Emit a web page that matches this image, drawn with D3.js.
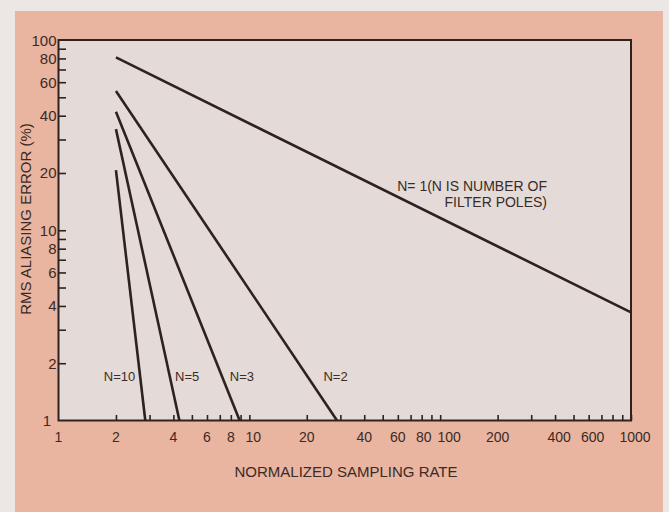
<!DOCTYPE html>
<html>
<head>
<meta charset="utf-8">
<script src="https://cdn.jsdelivr.net/npm/d3@7"></script>
<style>
  html, body { margin: 0; padding: 0; background: #ece7e5; }
  svg { display: block; }
  text { font-family: "Liberation Sans", Arial, sans-serif; fill: #3a2b26; }
</style>
</head>
<body>
<svg id="chart" width="669" height="512"></svg>
<script>
// ---- data ----
const seriesNames = ["N=1", "N=2", "N=3", "N=5", "N=10"];
const startRate  = [2, 2, 2, 2, 2];
const startError = [81, 54, 42, 34, 20.7];
const endRate    = [1000, 28.8, 8.9, 4.3, 2.85];
const endError   = [3.7, 1, 1, 1, 1];

const xTickValues = [2,3,4,5,6,7,8,9,10,20,30,40,50,60,70,80,90,100,200,300,400,500,600,700,800,900,1000];
const xTickLabels = [1,2,4,6,8,10,20,40,60,80,100,200,400,600,1000];
const yTickValues = [2,3,4,5,6,7,8,9,10,20,30,40,50,60,70,80,90];
const yTickLabels = [1,2,4,6,8,10,20,40,60,80,100];

const xTitle = "NORMALIZED SAMPLING RATE";
const yTitle = "RMS ALIASING ERROR (%)";
const noteLine1 = "N= 1(N IS NUMBER OF";
const noteLine2 = "FILTER POLES)";
// label anchor points given in data units (rate, error)
const seriesLabelRate = [null, 28.3, 9.15, 4.72, 2.09];
const seriesLabelError = 1.7;

// ---- layout ----
const svg = d3.select("#chart");
const ink = "#2e2220";
const L = 58.5, R = 631, T = 40, B = 420.5;

svg.append("rect").attr("x", 0).attr("y", 0).attr("width", 669).attr("height", 512).attr("fill", "#ece7e5");
svg.append("rect").attr("x", 15).attr("y", 11).attr("width", 648).attr("height", 501).attr("fill", "#e9b4a0");
svg.append("rect").attr("x", L).attr("y", T).attr("width", R - L).attr("height", B - T).attr("fill", "#e4dbd8");

const x = d3.scaleLog().domain([1, 1000]).range([L, R]);
const y = d3.scaleLog().domain([1, 100]).range([B, T]);

// x axis: inward ticks
const xAxis = d3.axisBottom(x).tickValues(xTickValues).tickSize(-5.5).tickFormat(() => "");
svg.append("g").attr("transform", `translate(0,${B})`).call(xAxis)
  .call(g => g.select(".domain").remove())
  .call(g => g.selectAll("line").attr("stroke", ink).attr("stroke-width", 1.6));

// labels led by the narrow "1" sit a little right of their tick, as in the reference
const xLabelShift = d => (d === 10 ? 4 : d === 100 ? 9 : d === 1000 ? 4 : d === 80 ? 2 : d >= 400 ? 4 : 0);
svg.append("g").selectAll("text").data(xTickLabels).join("text")
  .attr("x", d => x(d) + xLabelShift(d))
  .attr("y", B + 21)
  .attr("text-anchor", "middle")
  .attr("font-size", 14)
  .text(d => d);

// y axis: inward ticks
const yAxis = d3.axisLeft(y).tickValues(yTickValues).tickSize(-7.5).tickFormat(() => "");
svg.append("g").attr("transform", `translate(${L},0)`).call(yAxis)
  .call(g => g.select(".domain").remove())
  .call(g => g.selectAll("line").attr("stroke", ink).attr("stroke-width", 1.6));

svg.append("g").selectAll("text").data(yTickLabels).join("text")
  .attr("x", d => d === 1 ? 51 : L - 2)
  .attr("y", d => y(d) + 5.5)
  .attr("text-anchor", "end")
  .attr("font-size", 15)
  .text(d => d);

// frame
svg.append("rect").attr("x", L).attr("y", T).attr("width", R - L).attr("height", B - T)
  .attr("fill", "none").attr("stroke", ink).attr("stroke-width", 2);

// series lines
const line = d3.line().x(d => x(d[0])).y(d => y(d[1]));
seriesNames.forEach((name, i) => {
  svg.append("path")
    .datum([[startRate[i], startError[i]], [endRate[i], endError[i]]])
    .attr("d", line)
    .attr("fill", "none")
    .attr("stroke", ink)
    .attr("stroke-width", 2.6)
    .attr("stroke-linecap", "butt");
});

// series labels
seriesNames.forEach((name, i) => {
  if (seriesLabelRate[i] === null) return;
  svg.append("text")
    .attr("x", x(seriesLabelRate[i]))
    .attr("y", y(seriesLabelError) + 4.5)
    .attr("text-anchor", "middle")
    .attr("font-size", 13)
    .text(name);
});

svg.append("text").attr("x", 547).attr("y", 191).attr("text-anchor", "end").attr("font-size", 14).text(noteLine1);
svg.append("text").attr("x", 547).attr("y", 207).attr("text-anchor", "end").attr("font-size", 14).text(noteLine2);

// axis titles
svg.append("text").attr("x", 346).attr("y", 477).attr("text-anchor", "middle").attr("font-size", 15).text(xTitle);
svg.append("text")
  .attr("transform", `translate(31,219) rotate(-90)`)
  .attr("text-anchor", "middle")
  .attr("font-size", 15)
  .text(yTitle);
</script>
</body>
</html>
